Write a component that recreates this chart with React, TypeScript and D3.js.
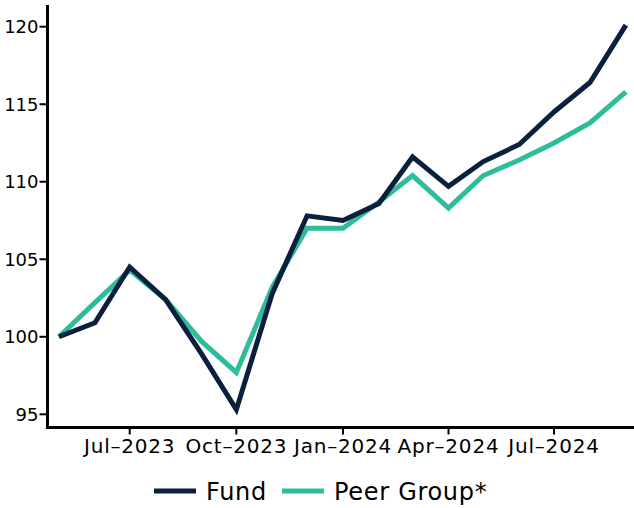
import { useEffect, useRef } from "react";
import * as d3 from "d3";

const months = [
  "2023-05", "2023-06", "2023-07", "2023-08", "2023-09", "2023-10", "2023-11", "2023-12",
  "2024-01", "2024-02", "2024-03", "2024-04", "2024-05", "2024-06", "2024-07", "2024-08", "2024-09",
];
const fund = [100, 100.9, 104.5, 102.4, 98.9, 95.3, 102.8, 107.8, 107.5, 108.6, 111.6, 109.7, 111.3, 112.4, 114.5, 116.4, 120.1];
const peer = [100, 102.2, 104.3, 102.4, 99.7, 97.7, 103.2, 107.0, 107.0, 108.7, 110.4, 108.3, 110.4, 111.4, 112.5, 113.8, 115.8];
const yTicks = [95, 100, 105, 110, 115, 120];
const xTicks = ["2023-07", "2023-10", "2024-01", "2024-04", "2024-07"];

const fundColor = "#0b1f3f";
const peerColor = "#2dbd9a";

const parse = d3.timeParse("%Y-%m");
const fmt = d3.timeFormat("%b-%Y");

export default function App() {
  const ref = useRef<SVGSVGElement>(null);

  useEffect(() => {
    if (!ref.current) return;
    const svg = d3.select(ref.current);
    svg.selectAll("*").remove();

    const left = 47.5;
    const bottom = 427.5;

    const x = d3
      .scaleTime()
      .domain([parse("2023-07")!, parse("2024-07")!])
      .range([129.7, 554]);
    const y = d3.scaleLinear().domain([95, 120]).range([414.3, 26.7]);

    const font = "DejaVu Sans, sans-serif";

    // axes
    const yAxis = svg.append("g");
    yAxis
      .append("line")
      .attr("x1", left)
      .attr("x2", left)
      .attr("y1", 5)
      .attr("y2", bottom + 1.5)
      .attr("stroke", "#000")
      .attr("stroke-width", 3);
    yTicks.forEach((t) => {
      yAxis
        .append("line")
        .attr("x1", left - 8)
        .attr("x2", left)
        .attr("y1", y(t))
        .attr("y2", y(t))
        .attr("stroke", "#000")
        .attr("stroke-width", 2);
      yAxis
        .append("text")
        .attr("x", left - 9)
        .attr("y", y(t))
        .attr("dy", "0.35em")
        .attr("text-anchor", "end")
        .attr("font-family", font)
        .attr("font-size", 18)
        .attr("fill", "#000")
        .text(t);
    });

    const xAxis = svg.append("g");
    xAxis
      .append("line")
      .attr("x1", left - 1.5)
      .attr("x2", 634)
      .attr("y1", bottom)
      .attr("y2", bottom)
      .attr("stroke", "#000")
      .attr("stroke-width", 3);
    xTicks.forEach((m) => {
      const d = parse(m)!;
      xAxis
        .append("line")
        .attr("x1", x(d))
        .attr("x2", x(d))
        .attr("y1", bottom)
        .attr("y2", bottom + 7)
        .attr("stroke", "#000")
        .attr("stroke-width", 2);
      xAxis
        .append("text")
        .attr("x", x(d))
        .attr("y", 453)
        .attr("text-anchor", "middle")
        .attr("font-family", font)
        .attr("font-size", 20)
        .attr("letter-spacing", 0.8)
        .attr("fill", "#000")
        .text(fmt(d).replace("-", "\u2013"));
    });

    const line = d3
      .line<number>()
      .x((_, i) => x(parse(months[i])!))
      .y((v) => y(v));

    svg
      .append("path")
      .datum(peer)
      .attr("d", line)
      .attr("fill", "none")
      .attr("stroke", peerColor)
      .attr("stroke-width", 5);
    svg
      .append("path")
      .datum(fund)
      .attr("d", line)
      .attr("fill", "none")
      .attr("stroke", fundColor)
      .attr("stroke-width", 5);

    // legend
    const legend = [
      { name: "Fund", color: fundColor, x0: 154 },
      { name: "Peer Group*", color: peerColor, x0: 282 },
    ];
    legend.forEach((l) => {
      svg
        .append("line")
        .attr("x1", l.x0)
        .attr("x2", l.x0 + 42)
        .attr("y1", 491)
        .attr("y2", 491)
        .attr("stroke", l.color)
        .attr("stroke-width", 5);
      svg
        .append("text")
        .attr("x", l.x0 + 52)
        .attr("y", 500)
        .attr("font-family", font)
        .attr("font-size", 24)
        .attr("letter-spacing", 0.7)
        .attr("fill", "#000")
        .text(l.name);
    });
  }, []);

  return (
    <svg
      ref={ref}
      width={634}
      height={508}
      style={{ position: "absolute", left: 0, top: 0, background: "#fff" }}
    />
  );
}
